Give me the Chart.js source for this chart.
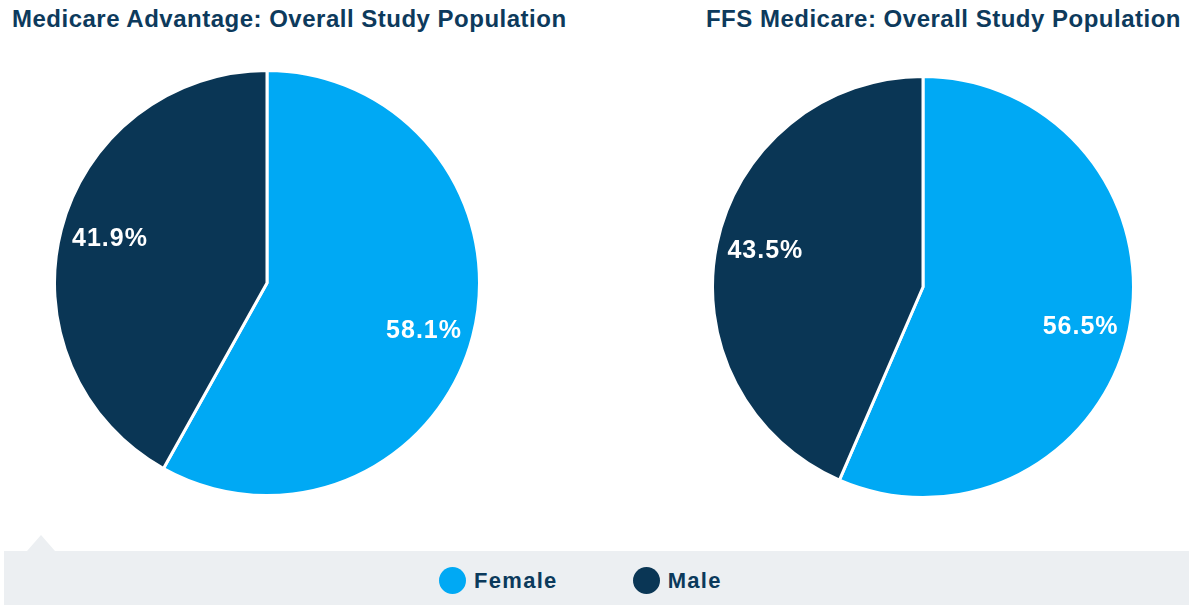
<!DOCTYPE html>
<html>
<head>
<meta charset="utf-8">
<script src="https://cdn.jsdelivr.net/npm/chart.js@4.4.0/dist/chart.umd.min.js"></script>
<style>
  body { margin: 0; width: 1189px; height: 605px; background: #fff; position: relative; overflow: hidden; font-family: "Liberation Sans", Arial, sans-serif; }
  .title { position: absolute; top: 7px; font-size: 24px; line-height: 24px; font-weight: bold; color: #0d3a5c; letter-spacing: 0.5px; white-space: nowrap; }
  #title1 { left: 12px; }
  #title2 { right: 8px; }
  .pie { position: absolute; }
  #band { position: absolute; left: 4px; top: 551px; width: 1185px; height: 54px; background: #eceff2; }
  #notch { position: absolute; left: 27px; top: 535px; width: 0; height: 0; border-left: 14px solid transparent; border-right: 14px solid transparent; border-bottom: 16px solid #eceff2; }
  #legend { position: absolute; top: 567px; left: 439px; display: flex; align-items: center; }
  .item { display: flex; align-items: center; margin-right: 75px; }
  .dot { width: 27px; height: 27px; border-radius: 50%; margin-right: 8px; }
  .lbl { font-size: 22px; font-weight: bold; color: #0b3a5c; letter-spacing: 1.3px; }
</style>
</head>
<body>
<div id="title1" class="title"></div>
<div id="title2" class="title"></div>
<div class="pie" style="left:53px;top:69px;width:428px;height:428px"><canvas id="pie1"></canvas></div>
<div class="pie" style="left:711px;top:75px;width:424px;height:424px"><canvas id="pie2"></canvas></div>
<div id="notch"></div>
<div id="band"></div>
<div id="legend"></div>
<script>
var categories = ['Female', 'Male'];
var colors = ['#00a9f4', '#0a3655'];
var titles = ['Medicare Advantage: Overall Study Population', 'FFS Medicare: Overall Study Population'];
var maValues = [58.1, 41.9];
var ffsValues = [56.5, 43.5];

document.getElementById('title1').innerText = titles[0];
document.getElementById('title2').innerText = titles[1];

// legend in the grey band
var legend = document.getElementById('legend');
for (let i = 0; i < categories.length; i++) {
    let item = document.createElement('div');
    item.className = 'item';
    item.innerHTML = `<div class="dot" style="background:${colors[i]}"></div><span class="lbl">${categories[i]}</span>`;
    legend.append(item);
}

// percent labels inside the slices
var sliceLabels = {
    id: 'sliceLabels',
    afterDatasetsDraw(chart) {
        let ctx = chart.ctx;
        let meta = chart.getDatasetMeta(0);
        ctx.save();
        ctx.font = 'bold 25px "Liberation Sans", Arial, sans-serif';
        ctx.letterSpacing = '1px';
        ctx.fillStyle = '#ffffff';
        ctx.textAlign = 'center';
        ctx.textBaseline = 'middle';
        meta.data.forEach(function (arc, i) {
            let p = arc.getProps(['x', 'y', 'startAngle', 'endAngle', 'outerRadius'], true);
            let mid = (p.startAngle + p.endAngle) / 2 + 0.03;
            let r = p.outerRadius * 0.77;
            let v = chart.data.datasets[0].data[i];
            ctx.fillText(v.toFixed(1) + '%', p.x + Math.cos(mid) * r, p.y + Math.sin(mid) * r + 2);
        });
        ctx.restore();
    }
};

function draw_pie(id, values) {
    return new Chart(document.getElementById(id), {
        type: 'pie',
        data: {
            labels: categories,
            datasets: [{
                data: values,
                backgroundColor: colors,
                borderColor: '#ffffff',
                borderWidth: 3
            }]
        },
        options: {
            responsive: true,
            maintainAspectRatio: false,
            animation: false,
            layout: { padding: 0 },
            plugins: {
                legend: { display: false },
                tooltip: { enabled: false },
                title: { display: false }
            }
        },
        plugins: [sliceLabels]
    });
}

draw_pie('pie1', maValues);
draw_pie('pie2', ffsValues);
</script>
</body>
</html>
